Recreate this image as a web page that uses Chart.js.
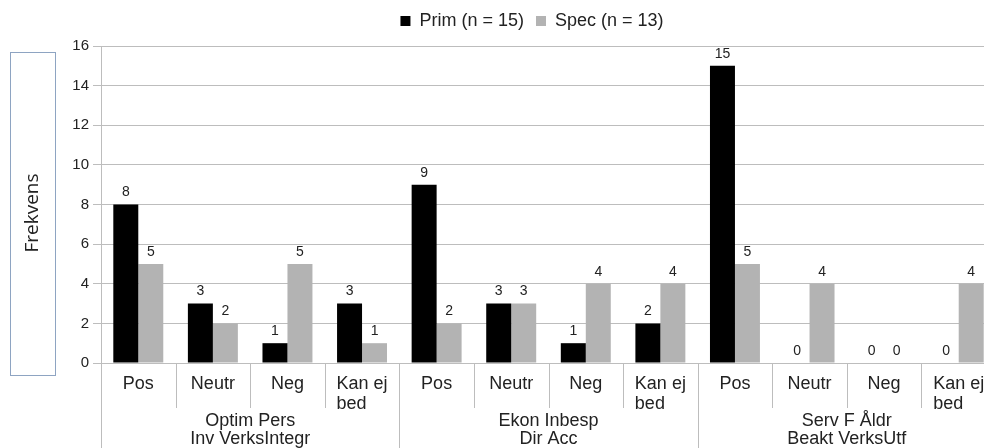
<!DOCTYPE html>
<html>
<head>
<meta charset="utf-8">
<script src="https://cdn.jsdelivr.net/npm/chart.js@4/dist/chart.umd.min.js"></script>
<style>
  html, body { margin: 0; padding: 0; background: #fff; overflow: hidden; }
  #wrap { width: 1000px; height: 448px; }
</style>
</head>
<body>
<div id="wrap"><canvas id="chart" width="1000" height="448"></canvas></div>
<script>
// Answer categories repeated inside each question group
const responses = ['Pos', 'Neutr', 'Neg', ['Kan ej', 'bed']];
// Question groups (two-line captions under the category labels)
const groups = [
  ['Optim Pers', 'Inv VerksIntegr'],
  ['Ekon Inbesp', 'Dir Acc'],
  ['Serv F Åldr', 'Beakt VerksUtf']
];
const seriesNames = ['Prim (n = 15)', 'Spec (n = 13)'];
const primValues = [8, 3, 1, 3, 9, 3, 1, 2, 15, 0, 0, 0];
const specValues = [5, 2, 5, 1, 2, 3, 4, 4, 5, 4, 0, 4];
const yMax = 16;
const yStep = 2;
const yTitle = 'Frekvens';

const labels = groups.flatMap(() => responses);

const FONT = "'Liberation Sans', Arial, sans-serif";
const TEXT = '#222';
const LINE = '#bdbdbd';

// Extra gap between the legend row and the plot
const legendGap = {
  id: 'legendGap',
  afterInit(chart) {
    const legend = chart.legend;
    if (!legend) return;
    const fit = legend.fit;
    legend.fit = function () {
      fit.call(this);
      this.height += 6;
    };
  }
};

// Boxed, rotated y-axis title
const yTitleBox = {
  id: 'yTitleBox',
  afterDraw(chart) {
    const { ctx } = chart;
    ctx.save();
    ctx.strokeStyle = '#8ea4c2';
    ctx.lineWidth = 1;
    ctx.strokeRect(10.5, 52.5, 45, 323);
    ctx.translate(33, 213);
    ctx.rotate(-Math.PI / 2);
    ctx.fillStyle = TEXT;
    ctx.font = "19px 'Open Sans', sans-serif";
    ctx.textAlign = 'center';
    ctx.textBaseline = 'middle';
    ctx.fillText(yTitle, 0, 0);
    ctx.restore();
  }
};

// Value labels above every bar (zeros included)
const valueLabels = {
  id: 'valueLabels',
  afterDatasetsDraw(chart) {
    const { ctx } = chart;
    ctx.save();
    ctx.fillStyle = TEXT;
    ctx.font = '14px ' + FONT;
    ctx.textAlign = 'center';
    ctx.textBaseline = 'bottom';
    chart.data.datasets.forEach((ds, di) => {
      const meta = chart.getDatasetMeta(di);
      meta.data.forEach((bar, i) => {
        ctx.fillText(String(ds.data[i]), bar.x, bar.y - 5);
      });
    });
    ctx.restore();
  }
};

// Category labels, separators below the axis and the group captions
const groupAxis = {
  id: 'groupAxis',
  afterDraw(chart) {
    const { ctx } = chart;
    const xs = chart.scales.x;
    const n = labels.length;
    const per = responses.length;
    const step = (xs.right - xs.left) / n;
    const base = xs.top;
    ctx.save();
    ctx.strokeStyle = LINE;
    ctx.lineWidth = 1;
    for (let i = 0; i <= n; i++) {
      const x = Math.round(xs.left + i * step) + 0.5;
      const end = (i % per === 0) ? chart.height : base + 45;
      ctx.beginPath();
      ctx.moveTo(x, base);
      ctx.lineTo(x, end);
      ctx.stroke();
    }
    ctx.fillStyle = TEXT;
    ctx.font = '18px ' + FONT;
    ctx.textBaseline = 'middle';
    // multi-line category labels are left-aligned as a centred block
    labels.forEach((lab, i) => {
      const cx = xs.getPixelForValue(i);
      const lines = Array.isArray(lab) ? lab : [lab];
      const w = Math.max(...lines.map(l => ctx.measureText(l).width));
      ctx.textAlign = 'left';
      lines.forEach((line, li) => {
        ctx.fillText(line, cx - w / 2, base + 21 + li * 20);
      });
    });
    ctx.textAlign = 'center';
    groups.forEach((g, gi) => {
      const cx = xs.left + (gi * per + per / 2) * step;
      g.forEach((line, li) => {
        ctx.fillText(line, cx, base + 58 + li * 18);
      });
    });
    ctx.restore();
  }
};

new Chart(document.getElementById('chart'), {
  type: 'bar',
  data: {
    labels: labels,
    datasets: [
      { label: seriesNames[0], data: primValues, backgroundColor: '#000000', borderWidth: 0 },
      { label: seriesNames[1], data: specValues, backgroundColor: '#b3b3b3', borderWidth: 0 }
    ]
  },
  options: {
    responsive: false,
    animation: false,
    devicePixelRatio: 1,
    layout: { padding: { left: 68, right: 4, top: 0, bottom: 0 } },
    datasets: { bar: { categoryPercentage: 0.67, barPercentage: 1.0 } },
    plugins: {
      legend: {
        position: 'top',
        labels: {
          color: TEXT,
          font: { family: FONT, size: 18 },
          boxWidth: 10,
          boxHeight: 10,
          padding: 12
        }
      },
      tooltip: { enabled: false }
    },
    scales: {
      x: {
        grid: { display: false },
        border: { display: true, color: LINE },
        ticks: { display: false },
        afterFit(scale) { scale.height = 85; }
      },
      y: {
        min: 0,
        max: yMax,
        grid: { color: LINE, tickLength: 8 },
        border: { display: true, color: LINE },
        ticks: {
          stepSize: yStep,
          color: TEXT,
          font: { family: FONT, size: 15 },
          padding: 4
        },
        afterFit(scale) { scale.width = 33; }
      }
    }
  },
  plugins: [legendGap, yTitleBox, valueLabels, groupAxis]
});
</script>
</body>
</html>
